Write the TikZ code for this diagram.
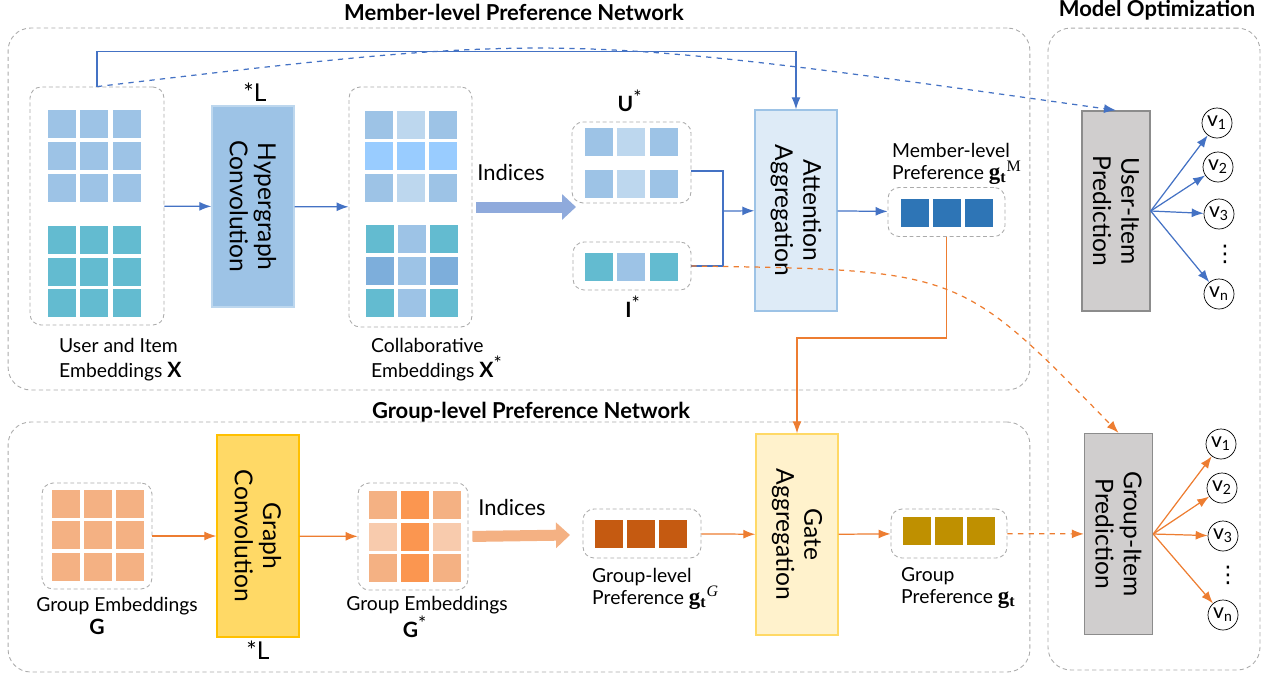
\documentclass[tikz,border=0pt]{standalone}
\usepackage{fontspec}
\setmainfont{Lato}
\newfontfamily\gfont{Liberation Serif}
\newfontfamily\dotfont{DejaVu Sans}
\usepackage{tikz}
\usetikzlibrary{shapes,arrows,arrows.meta,positioning}

\definecolor{cUsr}{HTML}{9DC3E6}
\definecolor{cPale}{HTML}{BDD7EE}
\definecolor{cSky}{HTML}{99CCFF}
\definecolor{cItm}{HTML}{63BBD0}
\definecolor{cMid}{HTML}{7DAEDB}
\definecolor{cMem}{HTML}{2E75B6}
\definecolor{cOr}{HTML}{F4B183}
\definecolor{cPeach}{HTML}{F8CBAD}
\definecolor{cHot}{HTML}{FB9650}
\definecolor{cRust}{HTML}{C55A11}
\definecolor{cGold}{HTML}{BF9000}
\definecolor{cLine}{HTML}{4472C4}
\definecolor{cOrg}{HTML}{ED7D31}
\definecolor{cDash}{HTML}{ABABAB}
\definecolor{cFatB}{HTML}{8FAADC}
\definecolor{cAttn}{HTML}{DEEBF7}
\definecolor{cConv}{HTML}{FFD966}
\definecolor{cConvB}{HTML}{FFC000}
\definecolor{cGate}{HTML}{FFF2CC}
\definecolor{cPred}{HTML}{D0CECE}
\definecolor{cPredB}{HTML}{8C8C8C}

\newcommand{\prefsym}[1]{{\gfont\fontsize{13}{13}\selectfont\textbf{g}\textsubscript{\textbf{t}}\textsuperscript{#1}}}
\newcommand{\starsup}{\textsuperscript{\fontsize{11}{11}\selectfont *}}

\begin{document}
\begin{tikzpicture}[x=0.02cm, y=-0.02cm, font=\fontsize{11}{14}\selectfont, >={Latex[length=2.4mm,width=1.8mm]}]
  \tikzstyle{Panel}    = [draw=cDash, dash pattern=on 2.4pt off 1.8pt, rounded corners=0.45cm, line width=0.5pt]
  \tikzstyle{Holder}   = [draw=cDash, dash pattern=on 2.2pt off 1.6pt, rounded corners=0.22cm, line width=0.5pt, inner sep=0pt]
  \tikzstyle{Block}    = [inner sep=0pt, line width=0.8pt]
  \tikzstyle{BlockTxt} = [rotate=-90, align=center, font=\fontsize{14}{16}\selectfont]
  \tikzstyle{Title}    = [font=\bfseries\fontsize{12.5}{14}\selectfont]
  \tikzstyle{Item}     = [circle, draw, minimum size=0.6cm, inner sep=0pt, font=\fontsize{12}{12}\selectfont]
  \tikzstyle{Dots}     = [inner sep=0pt, font=\dotfont\fontsize{13}{13}\selectfont]
  \tikzstyle{BLine}    = [cLine, line width=0.7pt]
  \tikzstyle{OLine}    = [cOrg, line width=0.7pt]
  \tikzstyle{Fat}      = [line width=0.22cm, -{Triangle[length=0.28cm,width=0.5cm]}]

  \useasboundingbox (0,0) rectangle (1271,677);

  % panels and titles
  \node (memP) at (519,209) [Panel, minimum width=20.44cm, minimum height=7.24cm] {};
  \node (grpP) at (519,547) [Panel, minimum width=20.44cm, minimum height=5cm] {};
  \node (optP) at (1154,349) [Panel, minimum width=4.24cm, minimum height=12.84cm] {};
  \node (memT) at (514,12) [Title] {Member-level Preference Network};
  \node (grpT) at (531,412) [Title] {Group-level Preference Network};
  \node (optT) at (1157,10) [Title] {Model Optimization};

  % member-level network
  \node (X) at (97,206) [Holder, minimum width=2.68cm, minimum height=4.76cm] {};
  \foreach \cx in {48,80,113} {
    \foreach \cy in {110,142,174} \fill[cUsr] (\cx,\cy) rectangle ++(28,28);
    \foreach \cy in {226,258,289} \fill[cItm] (\cx,\cy) rectangle ++(28,28);
  }
  \node (Xlab) at (53,332) [anchor=north west, align=left] {User and Item\\Embeddings \textbf{\large X}};

  \node (HGC) at (253,206.5) [Block, fill=cUsr, draw=cPale, minimum width=1.64cm, minimum height=4.02cm] {};
  \node (HGCt) at (HGC) [BlockTxt] {Hypergraph\\Convolution};
  \node (HGCL) at (255,92) [font=\fontsize{14}{14}\selectfont] {*L};

  \node (Xs) at (410.5,207) [Holder, minimum width=2.46cm, minimum height=4.8cm] {};
  \foreach \cy/\ca/\cb in {111/cUsr/cPale, 142/cSky/cSky, 174/cUsr/cPale} {
    \fill[\ca] (365,\cy) rectangle ++(28,28);
    \fill[\cb] (397,\cy) rectangle ++(28,28);
    \fill[\ca] (429,\cy) rectangle ++(28,28);
  }
  \foreach \cy/\ca/\cb in {225/cItm/cUsr, 257/cMid/cUsr, 289/cItm/cUsr} {
    \fill[\ca] (366,\cy) rectangle ++(28,28);
    \fill[\cb] (398,\cy) rectangle ++(28,28);
    \fill[\ca] (430,\cy) rectangle ++(28,28);
  }
  \node (Xslab) at (365,332) [anchor=north west, align=left] {Collaborative\\Embeddings \textbf{\large X}\starsup};

  \node (idxA) at (511,172) [font=\fontsize{12.5}{14}\selectfont] {Indices};
  \coordinate (idxU) at (576,207);

  \node (U) at (631.5,162.5) [Holder, minimum width=2.38cm, minimum height=1.62cm] {};
  \foreach \cx/\cc in {585/cUsr, 617/cPale, 650/cUsr} {
    \fill[\cc] (\cx,128) rectangle ++(28,28);
    \fill[\cc] (\cx,170) rectangle ++(28,28);
  }
  \node (Ulab) at (630,101) {\textbf{\large U}\starsup};

  \node (I) at (632,266) [Holder, minimum width=2.36cm, minimum height=0.96cm] {};
  \foreach \cx/\cc in {585/cItm, 617/cUsr, 650/cItm} \fill[\cc] (\cx,253) rectangle ++(28,28);
  \node (Ilab) at (633,307) {\textbf{\large I}\starsup};

  \node (Attn) at (796,210.5) [Block, fill=cAttn, draw=cUsr, minimum width=1.64cm, minimum height=4.02cm] {};
  \node (Attnt) at (Attn) [BlockTxt] {Attention\\Aggregation};

  \node (Mem) at (946.5,212) [Holder, minimum width=2.34cm, minimum height=0.98cm] {};
  \foreach \cx in {901,933,965} \fill[cMem] (\cx,199) rectangle ++(28,28);
  \node (Memlab) at (886,137) [anchor=north west, align=left, font=\fontsize{11}{12.5}\selectfont] {Member-level\\Preference \prefsym{M}};

  % group-level network
  \node (G) at (97,536) [Holder, minimum width=2.2cm, minimum height=2.12cm] {};
  \foreach \cx in {52,84,116}
    \foreach \cy in {490,521,553} \fill[cOr] (\cx,\cy) rectangle ++(28,28);
  \node (Glab) at (117,606) {Group Embeddings};
  \node (Gsym) at (97,627) {\textbf{\large G}};

  \node (GC) at (258,536) [Block, fill=cConv, draw=cConvB, minimum width=1.64cm, minimum height=4.04cm] {};
  \node (GCt) at (GC) [BlockTxt] {Graph\\Convolution};
  \node (GCL) at (258,650) [font=\fontsize{14}{14}\selectfont] {*L};

  \node (Gs) at (413,536.5) [Holder, minimum width=2.2cm, minimum height=2.14cm] {};
  \foreach \cy/\ca/\cb in {491/cOr/cHot, 523/cPeach/cHot, 554/cOr/cHot} {
    \fill[\ca] (369,\cy) rectangle ++(28,28);
    \fill[\cb] (401,\cy) rectangle ++(28,28);
    \fill[\ca] (433,\cy) rectangle ++(28,28);
  }
  \node (Gslab) at (427,605) {Group Embeddings};
  \node (Gssym) at (415,627) {\textbf{\large G}\starsup};

  \node (idxB) at (512,507) [font=\fontsize{12.5}{14}\selectfont] {Indices};
  \coordinate (idxG) at (570,535);

  \node (GL) at (642,533.5) [Holder, minimum width=2.36cm, minimum height=0.98cm] {};
  \foreach \cx in {595,627,659} \fill[cRust] (\cx,520) rectangle ++(28,28);
  \node (GLlab) at (586,562) [anchor=north west, align=left, font=\fontsize{11}{12.5}\selectfont] {Group-level\\Preference \prefsym{\itshape G}};

  \node (Gate) at (797,534.5) [Block, fill=cGate, draw=cConv, minimum width=1.64cm, minimum height=4.02cm] {};
  \node (Gatet) at (Gate) [BlockTxt] {Gate\\Aggregation};

  \node (Gp) at (949,533.5) [Holder, minimum width=2.32cm, minimum height=0.98cm] {};
  \foreach \cx in {903,935,967} \fill[cGold] (\cx,517) rectangle ++(28,28);
  \node (Gplab) at (895,561) [anchor=north west, align=left, font=\fontsize{11}{12.5}\selectfont] {Group\\Preference \prefsym{}};

  % model optimization
  \node (UIP) at (1116,211) [Block, fill=cPred, draw=cPredB, minimum width=1.36cm, minimum height=4cm] {};
  \node (UIPt) at (UIP) [BlockTxt] {User-Item\\Prediction};
  \node (u1) at (1217,123) [Item] {v\textsubscript{1}};
  \node (u2) at (1218,167) [Item] {v\textsubscript{2}};
  \node (u3) at (1219,214) [Item] {v\textsubscript{3}};
  \node (ud) at (1225,254) [Dots] {⋮};
  \node (un) at (1219,294) [Item] {v\textsubscript{n}};

  \node (GIP) at (1118.5,534) [Block, fill=cPred, draw=cPredB, minimum width=1.36cm, minimum height=4.02cm] {};
  \node (GIPt) at (GIP) [BlockTxt] {Group-Item\\Prediction};
  \node (g1) at (1221,444) [Item] {v\textsubscript{1}};
  \node (g2) at (1222,488) [Item] {v\textsubscript{2}};
  \node (g3) at (1223,536) [Item] {v\textsubscript{3}};
  \node (gd) at (1228,575) [Dots] {⋮};
  \node (gn) at (1223,615) [Item] {v\textsubscript{n}};

  % member-level connectors
  \coordinate (mrg) at (723,211);
  \draw[BLine, ->] (X) -- (HGC);
  \draw[BLine, ->] (HGC) -- (Xs);
  \draw[Fat, cFatB, shorten <=0.08cm] (Xs.east) -- (idxU);
  \draw[BLine] ([yshift=-0.17cm]U.east) -| (mrg);
  \draw[BLine] (I.east) -| (mrg);
  \draw[BLine, ->] (mrg) -- (Attn);
  \draw[BLine, ->] (X.north) -- ++(0,-35) -| (Attn.north);
  \draw[BLine, ->] (Attn) -- (Mem);
  \draw[BLine, dashed, ->] (X.north) .. controls (560,32) .. (UIP.north);
  \foreach \v in {u1,u2,u3,un} \draw[BLine, ->] (UIP.east) -- (\v);

  % group-level connectors
  \draw[OLine, ->] (G) -- (GC);
  \draw[OLine, ->] (GC) -- (Gs);
  \draw[Fat, cOr, shorten <=0.08cm] (Gs.east) -- (idxG);
  \draw[OLine, ->] (GL) -- (Gate);
  \draw[OLine, ->] (Gate) -- (Gp);
  \draw[OLine, dashed, ->] (Gp) -- (GIP);
  \draw[OLine, ->] (Mem.south) -- ++(0,101) -| (Gate.north);
  \draw[OLine, dashed, ->] (I.east) .. controls (960,270) .. (GIP.north);
  \foreach \v in {g1,g2,g3,gn} \draw[OLine, ->] (GIP.east) -- (\v);
\end{tikzpicture}
\end{document}
